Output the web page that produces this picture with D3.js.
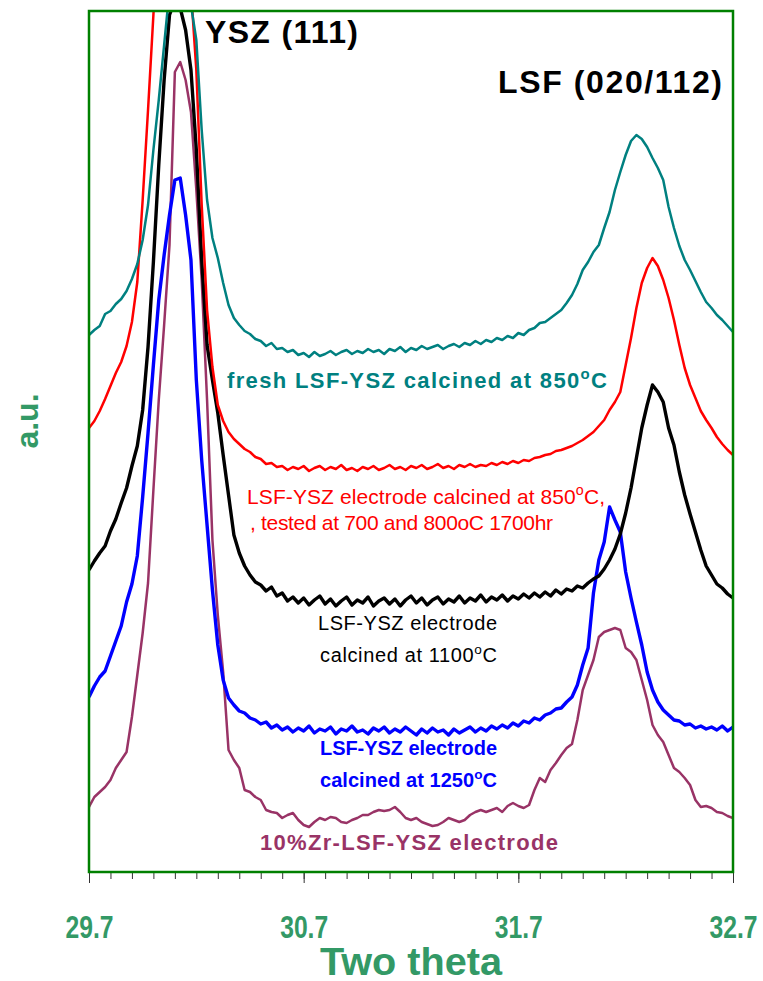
<!DOCTYPE html>
<html>
<head>
<meta charset="utf-8">
<script src="https://cdn.jsdelivr.net/npm/d3@7"></script>
<style>
    body { margin: 0; background: #fff; }
    #chart-area { width: 763px; height: 981px; }
    text { font-family: Arial, "Liberation Sans", sans-serif; }
</style>
</head>
<body>
<div id="chart-area"></div>
<script>

// XRD scan: 29.7 -> 32.7 deg two theta, step 0.025
const scanStart = 29.7;
const scanStep = 0.025;
const scanPoints = 121;
const twoTheta = d3.range(scanPoints).map(i => +(scanStart + i * scanStep).toFixed(3));

// intensities (a.u.), one value per scan step
const fresh850 = [537, 542, 546, 558, 561, 568, 573, 581, 593, 608, 632, 667, 722, 772, 827, 882, 992, 1022, 932, 867,
    832, 742, 672, 634, 614, 589, 567, 554, 547, 541, 538, 533, 531, 526, 529, 523, 524, 520, 522, 517,
    519, 515, 520, 516, 518, 521, 517, 520, 522, 518, 521, 519, 523, 520, 522, 518, 523, 521, 525, 520,
    524, 522, 526, 523, 525, 527, 523, 526, 528, 525, 529, 527, 531, 528, 532, 530, 534, 532, 536, 534,
    539, 537, 542, 544, 549, 550, 554, 558, 562, 569, 577, 588, 602, 610, 620, 627, 644, 660, 682, 700,
    717, 731, 737, 733, 725, 714, 704, 692, 665, 644, 626, 612, 602, 591, 580, 570, 564, 557, 552, 546, 540];

const tested850 = [444, 451, 461, 473, 486, 499, 510, 526, 550, 590, 672, 762, 857, 952, 1022, 1072, 1092, 1072, 992, 882,
    802, 667, 562, 505, 467, 451, 440, 433, 428, 423, 420, 415, 413, 408, 409, 405, 406, 402, 405, 403,
    406, 401, 404, 406, 402, 405, 403, 407, 402, 404, 401, 405, 403, 406, 402, 404, 407, 403, 405, 402,
    406, 404, 407, 403, 405, 408, 404, 406, 403, 407, 405, 408, 405, 407, 406, 409, 407, 410, 408, 411,
    409, 412, 411, 414, 415, 417, 418, 421, 422, 424, 426, 429, 432, 436, 440, 446, 452, 462, 470, 480,
    507, 534, 564, 589, 604, 614, 606, 592, 574, 552, 527, 504, 487, 474, 461, 452, 444, 435, 428, 422, 417];

const calc1100 = [302, 311, 319, 326, 341, 353, 369, 384, 406, 426, 462, 525, 610, 707, 792, 857, 872, 864, 842, 802,
    722, 612, 527, 492, 459, 417, 377, 337, 319, 306, 297, 290, 287, 281, 285, 276, 279, 271, 275, 269,
    274, 267, 272, 276, 268, 273, 266, 271, 275, 267, 272, 269, 275, 266, 271, 274, 268, 273, 266, 272,
    276, 269, 274, 267, 272, 275, 268, 273, 270, 276, 269, 274, 271, 277, 270, 275, 272, 277, 271, 276,
    273, 278, 274, 279, 275, 280, 276, 282, 278, 283, 281, 286, 284, 289, 293, 296, 303, 312, 323, 338,
    359, 384, 414, 444, 467, 487, 480, 470, 444, 427, 400, 377, 358, 340, 322, 306, 297, 288, 284, 278, 274];

const calc1250 = [175, 186, 195, 201, 216, 231, 246, 270, 288, 316, 375, 439, 507, 572, 617, 657, 692, 694, 657, 612,
    492, 412, 347, 282, 227, 192, 174, 167, 161, 159, 154, 152, 148, 150, 144, 147, 142, 145, 140, 144,
    141, 146, 139, 143, 141, 145, 138, 143, 141, 146, 140, 142, 138, 144, 141, 145, 139, 143, 140, 145,
    141, 137, 143, 139, 144, 140, 142, 137, 143, 139, 142, 145, 140, 144, 141, 146, 143, 147, 144, 149,
    146, 151, 149, 154, 152, 157, 159, 163, 164, 170, 175, 187, 207, 224, 279, 312, 330, 365, 352, 340,
    300, 274, 250, 227, 200, 182, 170, 162, 157, 152, 151, 147, 148, 144, 146, 143, 145, 142, 146, 141, 145];

const zr10 = [65, 75, 80, 85, 92, 104, 112, 120, 155, 197, 239, 289, 382, 472, 547, 627, 800, 810, 792, 760,
    682, 592, 472, 332, 257, 200, 122, 112, 104, 82, 80, 75, 72, 62, 60, 59, 54, 57, 59, 52,
    47, 45, 50, 54, 52, 55, 54, 50, 49, 52, 54, 57, 57, 60, 62, 61, 62, 65, 60, 54,
    52, 54, 50, 48, 46, 47, 50, 54, 52, 50, 52, 57, 60, 62, 60, 62, 64, 60, 66, 69,
    66, 64, 67, 82, 94, 90, 102, 109, 117, 124, 128, 152, 182, 197, 212, 235, 240, 242, 244, 242,
    224, 220, 212, 192, 172, 147, 137, 130, 117, 104, 100, 94, 87, 72, 65, 66, 64, 60, 59, 56, 54];

// drawing order, back to front
const seriesKeys = ["zr10", "calc1250", "calc1100", "tested850", "fresh850"];
const seriesValues = [zr10, calc1250, calc1100, tested850, fresh850];
const seriesColors = ["#993366", "#0000ff", "#000000", "#ff0000", "#008080"];
const seriesWidths = [2.5, 3.4, 3.4, 2.5, 2.5];

const majorTicks = [29.7, 30.7, 31.7, 32.7];
const minorTicks = d3.range(29.8, 32.65, 0.1).map(d => +d.toFixed(1));


class XrdVis {

    constructor(parentElement) {
        this.parentElement = parentElement;
        this.initVis();
    }

    initVis() {
        let vis = this;

        vis.margin = {top: 11, right: 30, bottom: 109, left: 89};
        vis.width = 763 - vis.margin.left - vis.margin.right;
        vis.height = 981 - vis.margin.top - vis.margin.bottom;

        vis.svg = d3.select("#" + vis.parentElement).append("svg")
            .attr("width", 763)
            .attr("height", 981);

        vis.g = vis.svg.append("g")
            .attr("transform", `translate(${vis.margin.left},${vis.margin.top})`);

        vis.x = d3.scaleLinear().domain([29.7, 32.7]).range([0, vis.width]);
        vis.y = d3.scaleLinear().domain([0, 861]).range([vis.height, 0]);

        vis.svg.append("defs").append("clipPath")
            .attr("id", "plot-clip")
            .append("rect")
            .attr("width", vis.width)
            .attr("height", vis.height);

        // minor + major ticks under the frame
        vis.g.append("g")
            .attr("class", "x-axis-minor")
            .attr("transform", `translate(0,${vis.height})`)
            .call(d3.axisBottom(vis.x).tickValues(minorTicks).tickSize(7).tickFormat(""))
            .call(g => g.select(".domain").remove())
            .call(g => g.selectAll("line").attr("stroke", "#333"));

        // labels are narrow in the original, squeeze them a bit
        vis.g.append("g")
            .attr("class", "x-axis")
            .attr("transform", `translate(0,${vis.height})`)
            .call(d3.axisBottom(vis.x).tickValues(majorTicks).tickSize(11).tickPadding(32).tickFormat(d3.format(".1f")))
            .call(g => g.select(".domain").remove())
            .call(g => g.selectAll("line").attr("stroke", "#333"))
            .call(g => g.selectAll("text")
                .attr("fill", "#339966")
                .attr("font-size", 32)
                .attr("font-weight", "bold")
                .attr("font-family", "Arial, 'Liberation Sans', sans-serif")
                .attr("textLength", 48)
                .attr("lengthAdjust", "spacingAndGlyphs"));

        vis.svg.append("text")
            .attr("x", vis.margin.left + vis.width / 2)
            .attr("y", 975)
            .attr("text-anchor", "middle")
            .attr("fill", "#339966")
            .attr("font-size", 39)
            .attr("font-weight", "bold")
            .attr("textLength", 182)
            .attr("lengthAdjust", "spacingAndGlyphs")
            .text("Two theta");

        vis.svg.append("text")
            .attr("transform", "translate(38,421) rotate(-90)")
            .attr("text-anchor", "middle")
            .attr("fill", "#339966")
            .attr("font-size", 32)
            .attr("font-weight", "bold")
            .text("a.u.");

        vis.wrangleData();
    }

    wrangleData() {
        let vis = this;

        vis.displayData = seriesKeys.map((key, i) => ({
            key: key,
            color: seriesColors[i],
            width: seriesWidths[i],
            values: twoTheta.map((t, j) => ({t: t, v: seriesValues[i][j]}))
        }));

        vis.updateVis();
    }

    updateVis() {
        let vis = this;

        vis.line = d3.line()
            .x(d => vis.x(d.t))
            .y(d => vis.y(d.v));

        vis.g.append("g")
            .attr("clip-path", "url(#plot-clip)")
            .selectAll(".scan")
            .data(vis.displayData)
            .enter().append("path")
            .attr("class", "scan")
            .attr("fill", "none")
            .attr("stroke", d => d.color)
            .attr("stroke-width", d => d.width)
            .attr("stroke-linejoin", "round")
            .attr("d", d => vis.line(d.values));

        // green frame
        vis.g.append("rect")
            .attr("width", vis.width)
            .attr("height", vis.height)
            .attr("fill", "none")
            .attr("stroke", "#008000")
            .attr("stroke-width", 2.5);

        // peak labels
        vis.addLabel(205, 43, 153, 32, "bold", "#000", ["YSZ (111)"]);
        vis.addLabel(498, 93, 224, 32, "bold", "#000", ["LSF (020/112)"]);

        // sample labels
        vis.addLabel(227, 388, 380, 22, "bold", "#008080", ["fresh LSF-YSZ calcined at 850", "o", "C"]);
        vis.addLabel(247, 504, 358, 21, "normal", "#ff0000", ["LSF-YSZ electrode calcined at 850", "o", "C,"]);
        vis.addLabel(250, 530, 303, 21, "normal", "#ff0000", [", tested at 700 and 800oC 1700hr"]);
        vis.addLabel(318, 630, 179, 20, "normal", "#000", ["LSF-YSZ electrode"]);
        vis.addLabel(320, 662, 177, 20, "normal", "#000", ["calcined at 1100", "o", "C"]);
        vis.addLabel(320, 755, 177, 20, "bold", "#0000ff", ["LSF-YSZ electrode"]);
        vis.addLabel(320, 787, 177, 20, "bold", "#0000ff", ["calcined at 1250", "o", "C"]);
        vis.addLabel(260, 850, 298, 22, "bold", "#993366", ["10%Zr-LSF-YSZ electrode"]);
    }

    // parts: [text] or [text, superscript, text]
    addLabel(x, y, len, size, weight, color, parts) {
        let vis = this;

        let t = vis.svg.append("text")
            .attr("x", x)
            .attr("y", y)
            .attr("fill", color)
            .attr("font-size", size)
            .attr("font-weight", weight)
            .attr("textLength", len)
            .attr("lengthAdjust", "spacing");

        t.append("tspan").text(parts[0]);
        if (parts.length > 1) {
            t.append("tspan")
                .attr("dy", -size * 0.42)
                .attr("font-size", size * 0.68)
                .text(parts[1]);
            t.append("tspan")
                .attr("dy", size * 0.42)
                .text(parts[2]);
        }
    }
}

new XrdVis("chart-area");

</script>
</body>
</html>
